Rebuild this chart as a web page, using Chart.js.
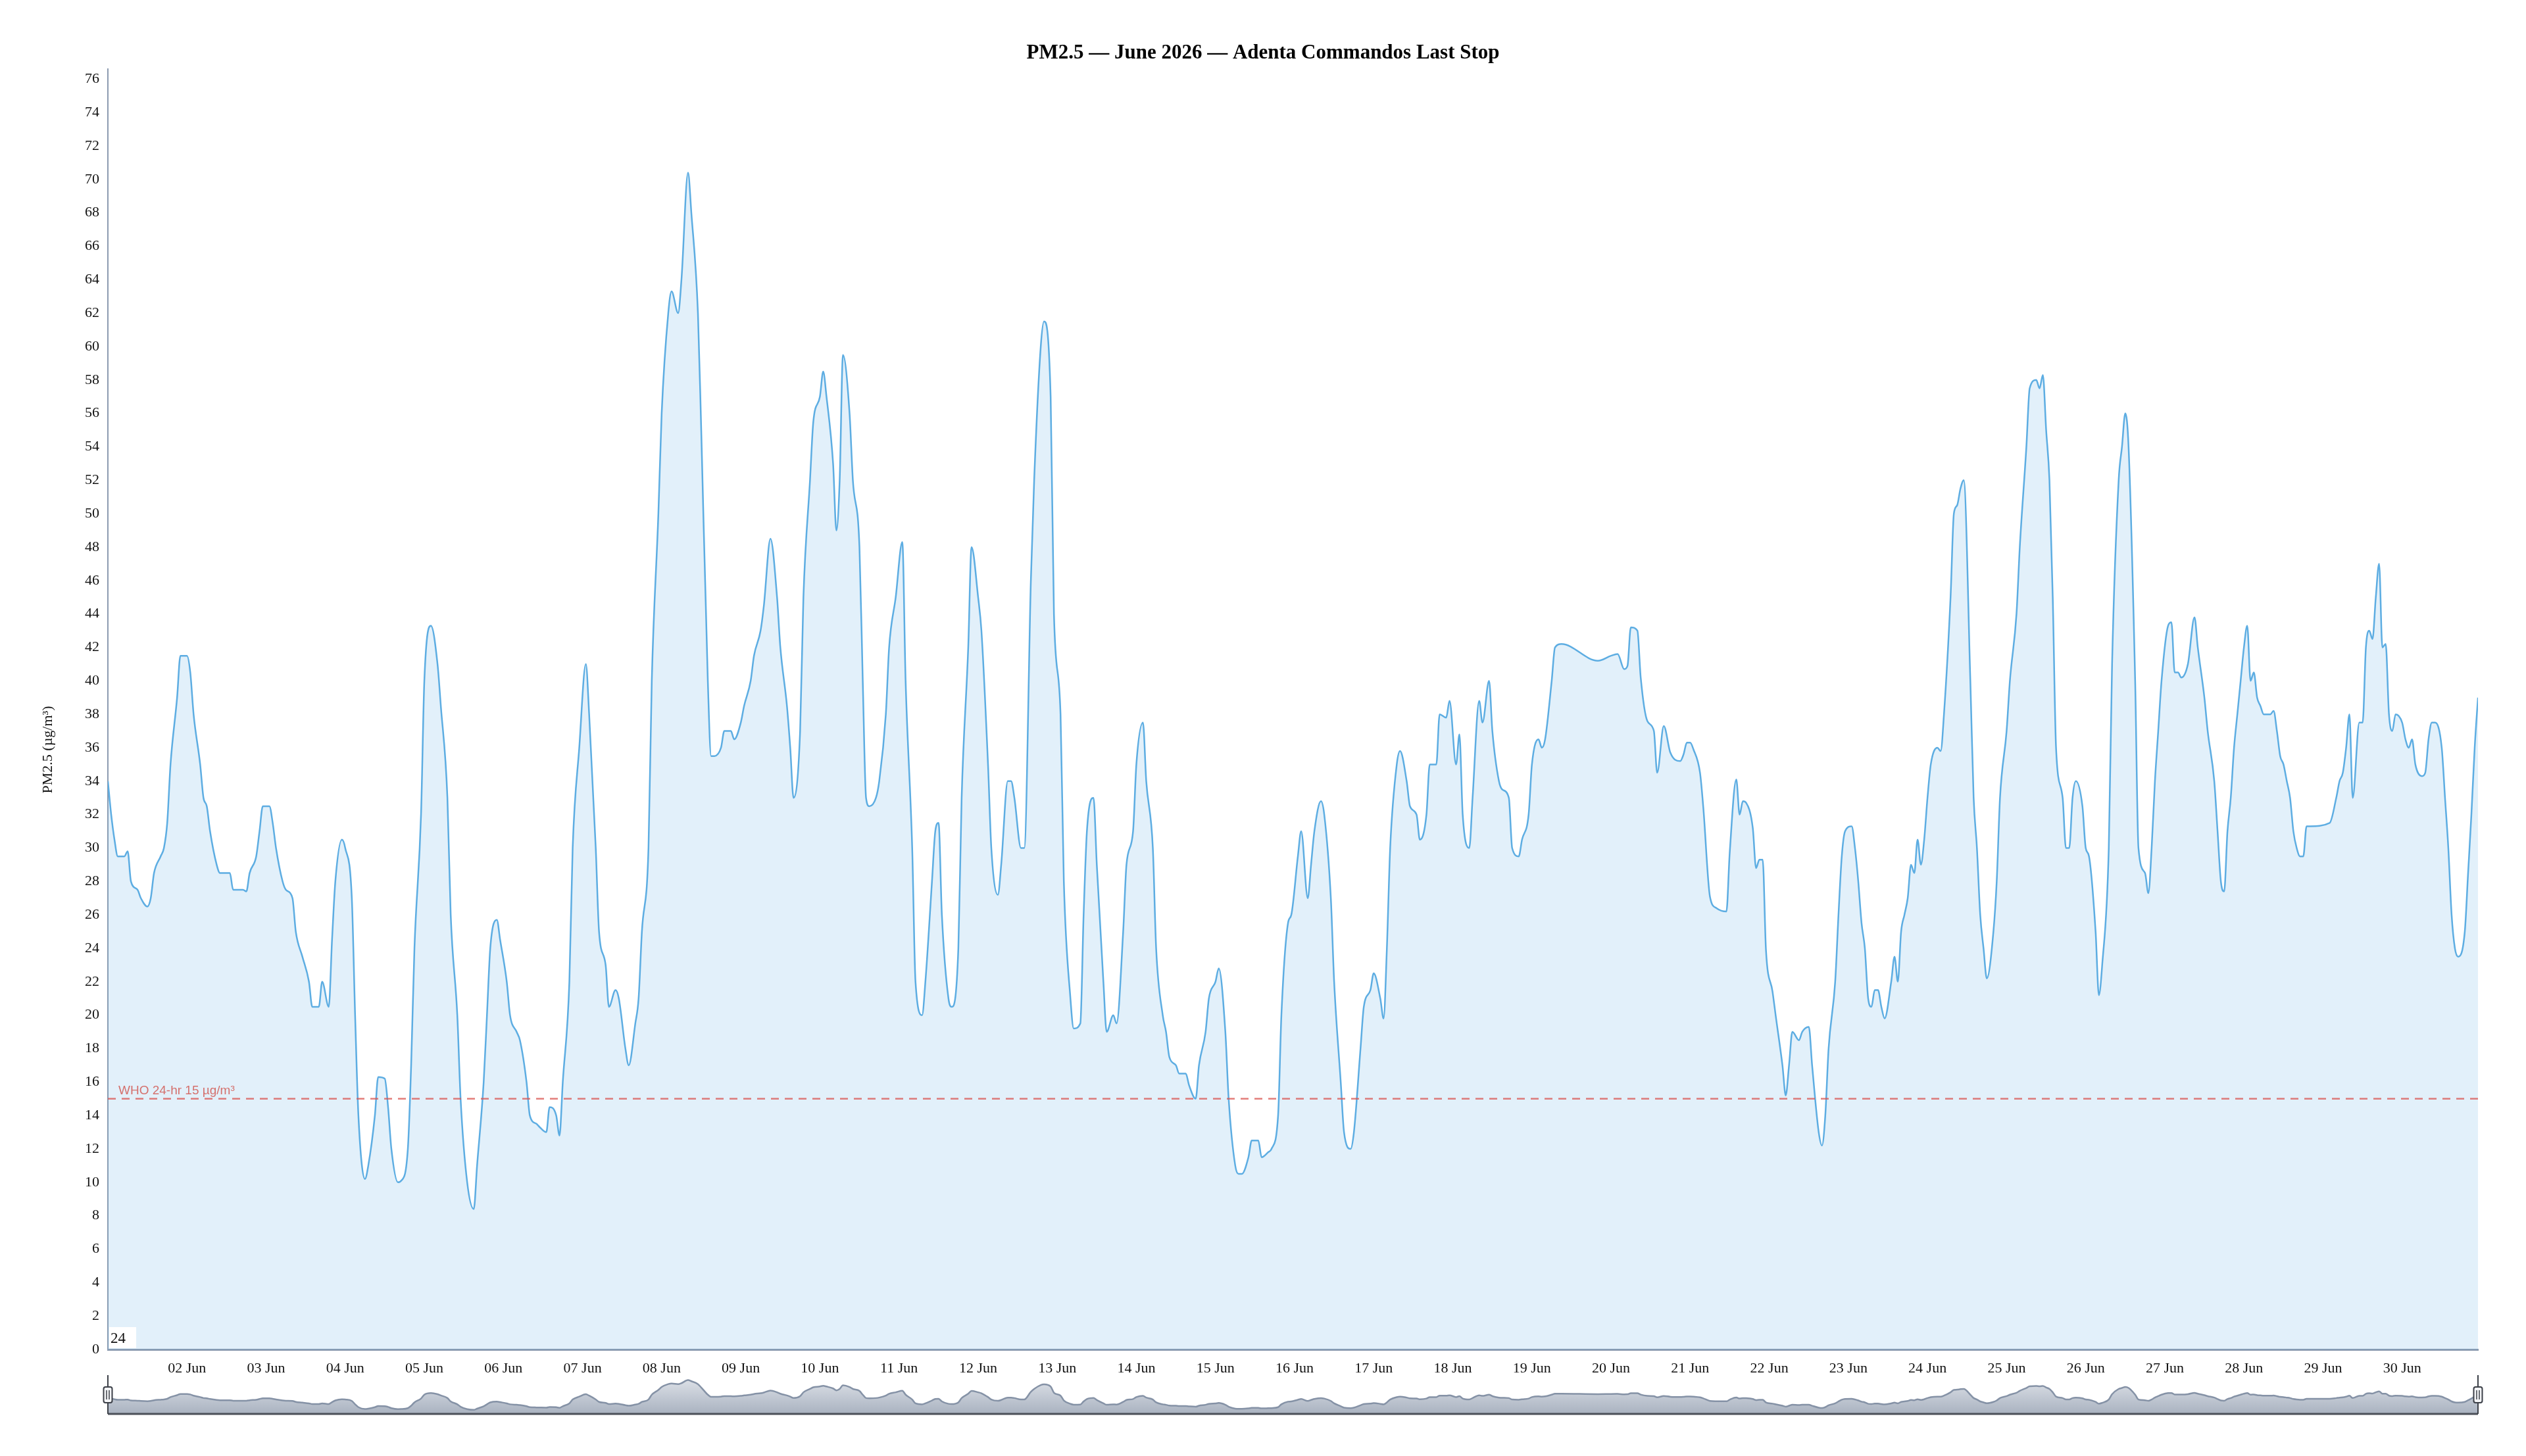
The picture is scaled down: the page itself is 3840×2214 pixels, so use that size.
<!DOCTYPE html>
<html>
<head>
<meta charset="utf-8">
<title>PM2.5 — June 2026 — Adenta Commandos Last Stop</title>
<script src="https://cdn.jsdelivr.net/npm/chart.js@4.4.1/dist/chart.umd.min.js"></script>
<style>
  html, body { margin: 0; padding: 0; background: #fff; }
  #wrap { position: relative; width: 3840px; height: 2214px; }
  #main { position: absolute; left: 0; top: 0; width: 3840px; height: 2214px; }
  #nav { position: absolute; left: 0; top: 2080px; width: 3840px; height: 84px; }
</style>
</head>
<body>
<div id="wrap">
  <div id="main"><canvas id="chart"></canvas></div>
  <div id="nav"><canvas id="navChart"></canvas></div>
</div>
<script>
// hours since 01 Jun 00:00 and the PM2.5 reading at that hour
const hours = [
  0, 1, 2, 3, 5, 6, 7, 9, 10, 12, 13, 14, 16, 17, 18, 19, 21, 22, 23,
  24, 25, 26, 28, 29, 30, 31, 33, 34, 36, 37, 38, 41, 42, 43, 45, 46, 47,
  49, 50, 51, 53, 54, 56, 57, 59, 61, 62, 64, 65, 67, 68, 69, 71,
  72, 74, 75, 76, 78, 79, 81, 82, 84, 85, 86, 88, 89, 91, 92, 93, 95,
  96, 98, 100, 101, 103, 104, 106, 107, 109, 111, 112, 114, 115, 116, 118, 119,
  121, 122, 124, 125, 127, 128, 130, 131, 133, 134, 136, 137, 138, 140, 141, 143,
  145, 146, 148, 149, 151, 152, 154, 155, 157, 158, 160, 161, 162, 164, 165, 167,
  168, 170, 171, 173, 174, 176, 177, 179, 180, 182, 183, 184, 186, 187, 189, 190,
  192, 193, 195, 196, 198, 199, 201, 203, 204, 206, 207, 208, 210, 211, 213, 214,
  216, 217, 218, 220, 221, 222, 223, 225, 226, 228, 229, 230, 231, 233, 234, 236,
  237, 239, 241, 242, 244, 245, 247, 248, 250, 251, 252, 253, 255, 256, 258, 259,
  261, 262, 264, 265, 267, 268, 270, 271, 273, 274, 275, 277, 278, 280, 281, 283,
  284, 286, 287, 289, 290, 292, 293, 295, 296, 297, 299, 300, 302, 303, 305, 306,
  308, 309, 311, 312, 314, 315, 317, 318, 320, 321, 322, 324, 325, 327, 328, 330,
  331, 333, 334, 336, 337, 339, 340, 342, 343, 344, 346, 347, 349, 350, 352, 353,
  355, 356, 358, 359, 361, 362, 364, 365, 366, 368, 369, 371, 372, 374, 375, 377,
  378, 380, 381, 383, 384, 386, 387, 388, 389, 391, 392, 394, 395, 397, 398, 400,
  401, 403, 404, 406, 407, 409, 410, 411, 413, 414, 416, 417, 419, 420, 422, 423,
  425, 426, 428, 429, 431, 432, 434, 435, 436, 438, 439, 441, 452, 456, 458, 460,
  461, 462, 464, 465, 467, 469, 470, 472, 474, 477, 478, 479, 480, 481, 483, 484,
  486, 488, 491, 492, 494, 495, 496, 497, 499, 500, 501, 502, 503, 505, 506, 508, 509,
  510, 511, 513, 514, 516, 517, 519, 520, 521, 522, 524, 525, 526, 527, 529, 530,
  531, 532, 533, 534, 535, 536, 537, 538, 539, 541, 542, 543, 544, 545, 546, 547,
  548, 549, 550, 551, 552, 553, 555, 556, 557, 559, 560, 561, 562, 563, 565, 566,
  567, 568, 569, 570, 572, 573, 574, 576, 577, 579, 580, 582, 583, 585, 586, 587,
  588, 589, 590, 591, 593, 594, 595, 596, 597, 599, 600, 601, 603, 604, 605, 607,
  608, 610, 611, 612, 613, 615, 616, 618, 619, 620, 621, 622, 623, 625, 626, 627,
  628, 629, 631, 633, 634, 636, 637, 639, 640, 641, 642, 643, 644, 645, 646, 647,
  648, 649, 650, 651, 652, 653, 654, 656, 657, 658, 659, 660, 661, 662, 663, 664,
  665, 666, 667, 668, 674, 676, 677, 678, 679, 680, 681, 683, 684, 685, 686, 687,
  688, 689, 690, 691, 692, 693, 694, 696, 697, 698, 699, 700, 702, 703, 704, 705,
  706, 708, 709, 710, 711, 712, 713, 715, 716, 717, 718, 719
];

const pm25 = [
  34, 32, 30.5, 29.5, 29.5, 29.8, 28, 27.5, 27, 26.5, 27, 28.5, 29.5, 30, 31.5, 35, 39, 41.5, 41.5,
  41.5, 40.5, 38, 35, 33, 32.5, 31, 29, 28.5, 28.5, 28.5, 27.5, 27.5, 27.4, 28.5, 29.5, 31, 32.5,
  32.5, 31.5, 30, 28, 27.5, 27, 25, 23.5, 22, 20.5, 20.5, 22, 20.5, 24.5, 28, 30.5,
  30, 27, 20, 14, 10.2, 11, 14, 16.3, 16.2, 14.5, 12, 10, 10.1, 12, 17, 24, 32,
  40, 43.3, 41, 38.5, 33, 26, 20, 15, 10, 8.4, 11, 16, 20, 24, 25.7, 24.5,
  22, 20, 19, 18.5, 16, 14, 13.5, 13.3, 13, 14.5, 14, 12.8, 16, 22, 30, 36,
  41, 38, 30, 25, 23, 20.5, 21.5, 21, 18, 17, 19.5, 21, 25, 30, 40, 50,
  56, 62, 63.3, 62, 64, 70.4, 68, 62, 55, 40, 35.5, 35.5, 36, 37, 37, 36.5,
  37.5, 38.5, 40, 41.5, 43, 44.5, 48.5, 45, 42, 38.5, 36, 33, 37, 45, 52, 55.5,
  57, 58.5, 57, 53, 49, 52, 59.5, 56, 52, 48, 40, 33, 32.5, 33, 34, 38,
  42, 45, 48.3, 40, 30, 22, 20, 22, 28, 31, 31.5, 26, 21, 20.5, 24, 33,
  42, 48, 45, 43, 35, 30, 27.2, 29, 34, 34, 33, 30, 30, 46, 52, 60,
  61.5, 57, 44, 38, 28, 21, 19.2, 19.5, 26, 31, 33, 29, 22, 19, 20, 19.5,
  25, 29, 31, 35, 37.5, 34, 30, 24, 20, 19, 17.5, 17, 16.5, 16.5, 15.8, 15,
  17, 19, 21, 22, 22.8, 19, 15, 11, 10.5, 10.5, 11.5, 12.5, 12.5, 11.5, 11.8, 12,
  14, 20, 25.5, 26, 29.5, 31, 27, 29, 31, 32.8, 32, 27, 22, 16, 13, 12,
  13, 18, 20.5, 21.5, 22.5, 21, 19.8, 24, 30, 35, 35.8, 34, 32.5, 32, 30.5, 32,
  35, 35, 38, 37.8, 38.8, 35, 36.8, 32, 30, 33, 38.8, 37.5, 40, 37, 34, 33.5,
  33, 30, 29.5, 30.5, 32, 35, 36.5, 36, 36.5, 40, 42, 42.2, 41.2, 41.5, 41.6, 40.7,
  40.9, 43.2, 43, 40.2, 37.6, 37, 34.5, 37.3, 35.7, 35.2, 35.6, 36.3, 36.3, 35.9, 34.5, 32.4,
  27.1, 26.4, 26.2, 29.7, 34.1, 32, 32.8, 32.7, 31.2, 28.8, 29.3, 29.3, 23.9, 21.4, 19.9, 17, 15.2,
  17, 19, 18.5, 19, 19.3, 17, 13, 12.2, 14, 18, 22, 26, 29.5, 31, 31.3, 30,
  28, 25.5, 24, 21, 20.5, 21.5, 21.5, 20.5, 19.8, 22, 23.5, 22, 25, 26, 27, 29,
  28.5, 30.5, 29, 30.5, 33, 35, 36, 35.8, 38, 45, 50, 50.5, 51.5, 52, 40, 33,
  30, 26, 24, 22.2, 25, 28, 33, 37, 40, 44, 48, 54, 57.5, 58, 57.5, 58.3,
  55, 52, 45, 36, 33, 30, 30, 33, 34, 32.5, 30, 29.5, 25, 21.2, 23, 30,
  41, 52, 54, 56, 54, 40, 30, 28.5, 27.3, 30, 34, 37, 40, 43.3, 43.5, 40.5,
  40.5, 40.2, 41, 43.8, 42, 39, 37, 34, 31, 28, 27.4, 31, 33, 36, 38, 40,
  42, 43.3, 40, 40.5, 39, 38.5, 38, 38, 38.2, 37, 35.5, 35, 34, 33, 31, 30,
  29.5, 29.5, 31.3, 31.3, 31.5, 33, 34, 34.5, 36, 38, 33, 37.5, 37.5, 42, 43, 42.5,
  45, 47, 42, 42.2, 38, 37, 38, 37.5, 36.5, 36, 36.5, 35, 34.3, 34.5, 36.5, 37.5,
  37.5, 36, 33, 30, 26, 24, 23.5, 25, 28.5, 32, 36, 39
];

const monthLabel = "Jun";
const chartTitle = "PM2.5 — June 2026 — Adenta Commandos Last Stop";
const whoLimit = 15;
const whoText = "WHO 24-hr 15 µg/m³";
const yTicks = [0, 2, 4, 6, 8, 10, 12, 14, 16, 18, 20, 22, 24, 26, 28, 30, 32, 34, 36, 38,
  40, 42, 44, 46, 48, 50, 52, 54, 56, 58, 60, 62, 64, 66, 68, 70, 72, 74, 76];
const cornerLabel = "24";

const points = hours.map((h, i) => ({ x: h, y: pm25[i] }));
const serif = "'Liberation Serif', 'Times New Roman', serif";
const sans = "'Liberation Sans', Arial, sans-serif";
const axisColor = "#8c9bb0";

// dashed WHO guideline with its label
const whoLine = {
  id: "whoLine",
  afterDatasetsDraw(chart) {
    const ctx = chart.ctx;
    const area = chart.chartArea;
    const y = chart.scales.y.getPixelForValue(whoLimit);
    ctx.save();
    ctx.strokeStyle = "rgba(217, 83, 79, 0.75)";
    ctx.lineWidth = 2.5;
    ctx.setLineDash([12, 9]);
    ctx.beginPath();
    ctx.moveTo(area.left, y);
    ctx.lineTo(area.right, y);
    ctx.stroke();
    ctx.setLineDash([]);
    ctx.fillStyle = "rgba(210, 90, 85, 0.85)";
    ctx.font = "19px " + sans;
    ctx.textAlign = "left";
    ctx.textBaseline = "alphabetic";
    ctx.fillText(whoText, area.left + 16, y - 7);
    ctx.restore();
  }
};

// title (centred on the page), y axis name, and the small box in the lower-left corner
const extras = {
  id: "extras",
  afterDraw(chart) {
    const ctx = chart.ctx;
    const area = chart.chartArea;
    ctx.save();
    ctx.fillStyle = "#000";
    ctx.font = "bold 31px " + serif;
    ctx.textAlign = "center";
    ctx.textBaseline = "middle";
    ctx.fillText(chartTitle, chart.width / 2, 81);
    ctx.restore();

    ctx.save();
    ctx.translate(73, 1140);
    ctx.rotate(-Math.PI / 2);
    ctx.fillStyle = "#111";
    ctx.font = "22px " + serif;
    ctx.textAlign = "center";
    ctx.textBaseline = "middle";
    ctx.fillText("PM2.5 (µg/m³)", 0, 0);
    ctx.restore();

    ctx.save();
    ctx.fillStyle = "#fff";
    ctx.fillRect(area.left + 2, area.bottom - 34, 41, 32);
    ctx.fillStyle = "#111";
    ctx.font = "23px " + serif;
    ctx.textAlign = "left";
    ctx.textBaseline = "alphabetic";
    ctx.fillText(cornerLabel, area.left + 4, area.bottom - 10);
    ctx.restore();
  }
};

new Chart(document.getElementById("chart"), {
  type: "line",
  data: {
    datasets: [{
      data: points,
      borderColor: "#5dade2",
      borderWidth: 2.5,
      backgroundColor: "rgba(93, 173, 226, 0.18)",
      fill: "origin",
      pointRadius: 0,
      cubicInterpolationMode: "monotone"
    }]
  },
  options: {
    responsive: true,
    maintainAspectRatio: false,
    devicePixelRatio: 1,
    animation: false,
    layout: { padding: { left: 0, right: 73, top: 105, bottom: 100 } },
    plugins: {
      legend: { display: false },
      tooltip: { enabled: false },
      title: { display: false }
    },
    scales: {
      x: {
        type: "linear",
        min: 0,
        max: 719,
        grid: { display: false },
        border: { color: axisColor, width: 3 },
        afterBuildTicks(scale) {
          scale.ticks = scale.ticks.filter(t => t.value > 0 && t.value < 719 && t.value % 24 === 0);
        },
        afterFit(scale) { scale.height = 62; },
        ticks: {
          stepSize: 24,
          autoSkip: false,
          maxRotation: 0,
          padding: 8,
          color: "#111",
          font: { family: serif, size: 22 },
          callback: v => String(v / 24 + 1).padStart(2, "0") + " " + monthLabel
        }
      },
      y: {
        min: 0,
        max: 76.6,
        grid: { display: false },
        border: { color: axisColor, width: 2 },
        afterBuildTicks(scale) {
          scale.ticks = yTicks.map(v => ({ value: v }));
        },
        afterFit(scale) { scale.width = 164; },
        ticks: {
          padding: 5,
          color: "#111",
          font: { family: serif, size: 22 }
        }
      }
    }
  },
  plugins: [whoLine, extras]
});

// overview strip below the chart, with its two end handles
const navHandles = {
  id: "navHandles",
  afterDraw(chart) {
    const ctx = chart.ctx;
    const area = chart.chartArea;
    const xs = [chart.scales.x.getPixelForValue(0), chart.scales.x.getPixelForValue(719)];
    ctx.save();
    ctx.strokeStyle = "#4c5058";
    ctx.lineWidth = 3;
    ctx.beginPath();
    ctx.moveTo(area.left, area.bottom);
    ctx.lineTo(area.right, area.bottom);
    ctx.stroke();
    xs.forEach(x => {
      ctx.strokeStyle = "#3c4048";
      ctx.lineWidth = 2;
      ctx.beginPath();
      ctx.moveTo(x, area.top - 3);
      ctx.lineTo(x, area.bottom);
      ctx.stroke();
      const w = 13, h = 24, top = area.top + 15;
      ctx.fillStyle = "#f4f5f7";
      ctx.beginPath();
      ctx.roundRect(x - w / 2, top, w, h, 3);
      ctx.fill();
      ctx.stroke();
      ctx.lineWidth = 1.5;
      ctx.beginPath();
      ctx.moveTo(x - 2, top + 5); ctx.lineTo(x - 2, top + h - 5);
      ctx.moveTo(x + 2, top + 5); ctx.lineTo(x + 2, top + h - 5);
      ctx.stroke();
    });
    ctx.restore();
  }
};

new Chart(document.getElementById("navChart"), {
  type: "line",
  data: {
    datasets: [{
      data: points,
      borderColor: "#8592a6",
      borderWidth: 2.5,
      fill: "origin",
      backgroundColor(context) {
        const area = context.chart.chartArea;
        if (!area) return "#c4cad4";
        const g = context.chart.ctx.createLinearGradient(0, area.top, 0, area.bottom);
        g.addColorStop(0, "#dfe3e9");
        g.addColorStop(1, "#a9b2c0");
        return g;
      },
      pointRadius: 0,
      cubicInterpolationMode: "monotone"
    }]
  },
  options: {
    responsive: true,
    maintainAspectRatio: false,
    devicePixelRatio: 1,
    animation: false,
    layout: { padding: { left: 164, right: 73, top: 14, bottom: 14 } },
    plugins: { legend: { display: false }, tooltip: { enabled: false } },
    scales: {
      x: { type: "linear", min: 0, max: 719, display: false },
      y: { min: 0, max: 76.6, display: false }
    }
  },
  plugins: [navHandles]
});
</script>
</body>
</html>
